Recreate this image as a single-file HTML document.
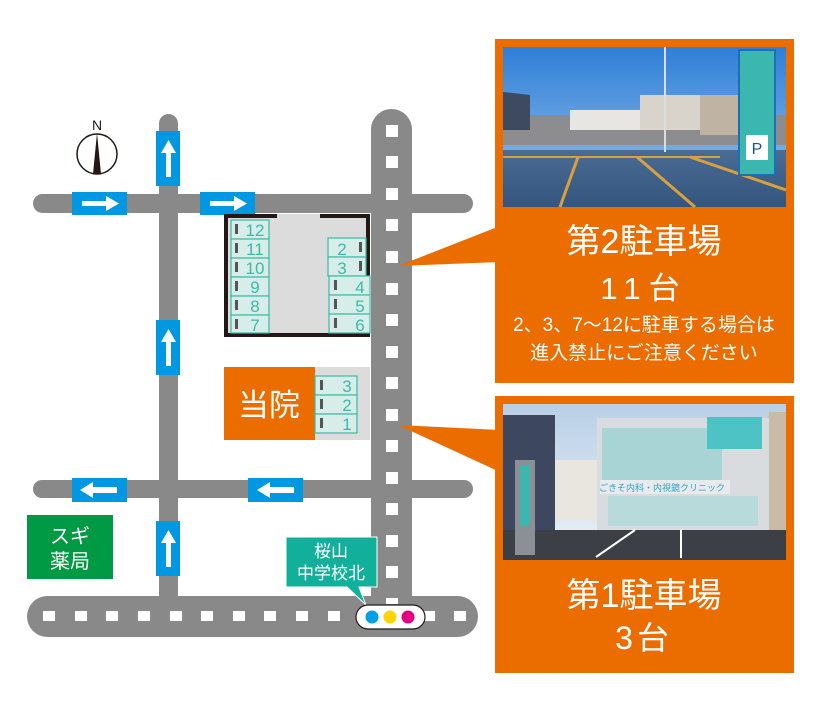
<!DOCTYPE html>
<html><head><meta charset="utf-8"><style>
html,body{margin:0;padding:0;background:#fff;}
svg{display:block;}
text{font-family:"Liberation Sans","Noto Sans CJK JP",sans-serif;}
</style></head><body>
<svg width="830" height="717" viewBox="0 0 830 717" xmlns="http://www.w3.org/2000/svg">
<defs>
<linearGradient id="sky1" x1="0" y1="0" x2="0" y2="1"><stop offset="0" stop-color="#2f7fd8"/><stop offset="1" stop-color="#9cc4ea"/></linearGradient>
<linearGradient id="asp" x1="0" y1="0" x2="0" y2="1"><stop offset="0" stop-color="#4a6c94"/><stop offset="1" stop-color="#34557e"/></linearGradient>
<linearGradient id="sky2" x1="0" y1="0" x2="0" y2="1"><stop offset="0" stop-color="#b9cfe6"/><stop offset="1" stop-color="#eef2f6"/></linearGradient>
</defs>
<g fill="#898989">
<rect x="33" y="194" width="440" height="19" rx="9.5"/>
<rect x="33" y="480" width="440" height="18" rx="9"/>
<rect x="159" y="114" width="19" height="490" rx="9.5"/>
<rect x="371" y="109" width="41" height="510" rx="20.5"/>
<rect x="27" y="596" width="451" height="41" rx="20.5"/>
</g>
<g fill="#fff">
<rect x="386" y="125" width="12" height="12"/><rect x="386" y="156" width="12" height="12"/><rect x="386" y="188" width="12" height="12"/><rect x="386" y="219" width="12" height="12"/><rect x="386" y="251" width="12" height="12"/><rect x="386" y="283" width="12" height="12"/><rect x="386" y="314" width="12" height="12"/><rect x="386" y="346" width="12" height="12"/><rect x="386" y="377" width="12" height="12"/><rect x="386" y="409" width="12" height="12"/><rect x="386" y="440" width="12" height="12"/><rect x="386" y="472" width="12" height="12"/><rect x="386" y="503" width="12" height="12"/><rect x="386" y="535" width="12" height="12"/><rect x="386" y="566" width="12" height="12"/><rect x="386" y="598" width="12" height="6"/>
<rect x="43" y="611" width="12" height="10"/><rect x="75" y="611" width="12" height="10"/><rect x="106" y="611" width="12" height="10"/><rect x="138" y="611" width="12" height="10"/><rect x="170" y="611" width="12" height="10"/><rect x="201" y="611" width="12" height="10"/><rect x="233" y="611" width="12" height="10"/><rect x="264" y="611" width="12" height="10"/><rect x="296" y="611" width="12" height="10"/><rect x="328" y="611" width="12" height="10"/><rect x="423" y="611" width="12" height="10"/><rect x="454" y="611" width="12" height="10"/>
</g>
<g fill="#0098e0">
<rect x="72" y="192" width="55" height="23"/><rect x="200" y="192" width="55" height="23"/>
<rect x="72" y="478" width="55" height="24"/><rect x="248" y="478" width="55" height="24"/>
<rect x="156" y="131" width="24" height="55"/><rect x="156" y="320" width="24" height="55"/><rect x="156" y="521" width="24" height="55"/>
</g>
<g fill="#fff">
<path d="M82 201h24v-5l13 7.5-13 7.5v-5h-24z"/>
<path d="M210 201h24v-5l13 7.5-13 7.5v-5h-24z"/>
<path d="M117 487h-24v-5l-13 8 13 8v-5h24z"/>
<path d="M294 487h-24v-5l-13 8 13 8v-5h24z"/>
<path d="M166 177v-24h-5l7.5-13 7.5 13h-5v24z"/>
<path d="M166 366v-24h-5l7.5-13 7.5 13h-5v24z"/>
<path d="M166 567v-24h-5l7.5-13 7.5 13h-5v24z"/>
</g>
<circle cx="97" cy="154" r="20" fill="#fff" stroke="#231815" stroke-width="1.5"/>
<path d="M97 133 L101 174 L93 174 Z" fill="#231815"/>
<text x="97" y="130" font-size="14" text-anchor="middle" fill="#231815">N</text>
<rect x="224" y="214" width="146" height="123" fill="#dcdcdc"/>
<path d="M277 216H226V335H368V276" fill="none" stroke="#231815" stroke-width="4"/>
<path d="M320 216H368V276" fill="none" stroke="#231815" stroke-width="4"/>
<g fill="#d7ede9" stroke="#3dbaa6" stroke-width="1.2">
<rect x="231" y="220" width="38" height="19"/><rect x="231" y="239" width="38" height="19"/><rect x="231" y="258" width="38" height="19"/><rect x="231" y="277" width="38" height="19"/><rect x="231" y="296" width="38" height="19"/><rect x="231" y="315" width="38" height="18"/>
<rect x="328" y="238" width="38" height="19"/><rect x="328" y="257" width="38" height="19"/>
<rect x="329" y="276" width="41" height="19"/><rect x="329" y="295" width="41" height="19"/><rect x="329" y="314" width="41" height="19"/>
</g>
<g fill="#555">
<rect x="235" y="224" width="3" height="10"/><rect x="235" y="243" width="3" height="10"/><rect x="235" y="262" width="3" height="10"/><rect x="235" y="281" width="3" height="10"/><rect x="235" y="300" width="3" height="10"/><rect x="235" y="319" width="3" height="10"/>
<rect x="359" y="242" width="3" height="10"/><rect x="359" y="261" width="3" height="10"/>
<rect x="334" y="280" width="3" height="10"/><rect x="334" y="299" width="3" height="10"/><rect x="334" y="318" width="3" height="10"/>
</g>
<g fill="#3dbaa6" font-size="17" text-anchor="middle">
<text x="255" y="236">12</text><text x="255" y="255">11</text><text x="255" y="274">10</text><text x="255" y="293">9</text><text x="255" y="312">8</text><text x="255" y="331">7</text>
<text x="342" y="255">2</text><text x="342" y="274">3</text>
<text x="360" y="293">4</text><text x="360" y="312">5</text><text x="360" y="331">6</text>
</g>
<rect x="315" y="367" width="55" height="73" fill="#dcdcdc"/>
<rect x="224" y="367" width="91" height="73" fill="#eb6d00"/>
<text x="269" y="416" font-size="31" fill="#fff" text-anchor="middle">当院</text>
<g fill="#d7ede9" stroke="#3dbaa6" stroke-width="1.2">
<rect x="315" y="376" width="42" height="19"/><rect x="315" y="395" width="42" height="19"/><rect x="315" y="414" width="42" height="19"/>
</g>
<g fill="#555"><rect x="320" y="380" width="3" height="10"/><rect x="320" y="399" width="3" height="10"/><rect x="320" y="418" width="3" height="10"/></g>
<g fill="#3dbaa6" font-size="17" text-anchor="middle"><text x="347" y="392">3</text><text x="347" y="411">2</text><text x="347" y="430">1</text></g>
<rect x="27" y="515" width="86" height="64" fill="#009a44"/>
<text x="70" y="543" font-size="20" fill="#fff" text-anchor="middle">スギ</text>
<text x="70" y="568" font-size="20" fill="#fff" text-anchor="middle">薬局</text>
<path d="M286 537H377V587H359L366 605 347 587H286Z" fill="#12b09a" stroke="#fff" stroke-width="1"/>
<text x="331" y="557" font-size="17" fill="#fff" text-anchor="middle">桜山</text>
<text x="331" y="579" font-size="17" fill="#fff" text-anchor="middle">中学校北</text>
<rect x="356" y="605" width="69" height="24" rx="12" fill="#fff" stroke="#231815" stroke-width="1.2"/>
<circle cx="372" cy="617" r="6.5" fill="#00a0e9"/><circle cx="390" cy="617" r="6.5" fill="#ffd400"/><circle cx="408" cy="617" r="6.5" fill="#e4007f"/>
<path d="M398 266L500 226V262Z" fill="#eb6d00"/>
<path d="M398 425L500 430V472Z" fill="#eb6d00"/>
<rect x="495" y="39" width="299" height="344" fill="#eb6d00"/>
<rect x="503" y="47" width="283" height="160" fill="url(#sky1)"/>
<rect x="503" y="115" width="283" height="30" fill="#8d8d8f"/>
<path d="M503 92L530 95V130H503Z" fill="#3d4a60"/>
<rect x="570" y="110" width="80" height="20" fill="#e8e6e2"/>
<rect x="640" y="95" width="60" height="35" fill="#d8d3cb"/>
<rect x="700" y="95" width="40" height="40" fill="#bfb4a4"/>
<rect x="503" y="150" width="283" height="57" fill="url(#asp)"/>
<path d="M503 157H720" stroke="#d9a040" stroke-width="2"/>
<path d="M578 157L560 207M637 157L695 207M690 157L786 190" stroke="#d9a040" stroke-width="3"/>
<rect x="664" y="47" width="2" height="105" fill="#ddd"/>
<rect x="739" y="50" width="36" height="125" fill="#3bb7b0" stroke="#1c6fb5" stroke-width="2"/>
<rect x="746" y="135" width="22" height="25" fill="#fff"/>
<text x="757" y="154" font-size="16" fill="#1c4fa0" text-anchor="middle">P</text>
<text x="644" y="253" font-size="34" fill="#fff" text-anchor="middle">第2駐車場</text>
<text x="644" y="299" font-size="31" fill="#fff" text-anchor="middle" letter-spacing="8">11台</text>
<text x="644" y="331" font-size="19" fill="#fff" text-anchor="middle">2、3、7〜12に駐車する場合は</text>
<text x="644" y="359" font-size="19" fill="#fff" text-anchor="middle">進入禁止にご注意ください</text>
<rect x="495" y="396" width="299" height="277" fill="#eb6d00"/>
<rect x="503" y="404" width="283" height="156" fill="url(#sky2)"/>
<rect x="503" y="415" width="52" height="130" fill="#3d4760"/>
<rect x="597" y="418" width="172" height="122" fill="#d9dcdf"/>
<rect x="602" y="428" width="120" height="53" fill="#a9d4d6"/>
<rect x="707" y="417" width="55" height="32" fill="#4dc3c6"/>
<rect x="600" y="480" width="130" height="14" fill="#e8eaec"/>
<text x="662" y="491" font-size="9" fill="#2aa6c8" text-anchor="middle">ごきそ内科・内視鏡クリニック</text>
<rect x="608" y="496" width="150" height="30" fill="#b8dadb"/>
<rect x="769" y="412" width="17" height="118" fill="#c9bba6"/>
<rect x="555" y="460" width="42" height="60" fill="#e9e6e0"/>
<rect x="503" y="530" width="283" height="30" fill="#3d3f46"/>
<path d="M596 557L635 530M681 558L681 530" stroke="#fff" stroke-width="2"/>
<rect x="515" y="460" width="20" height="95" fill="#8a9096"/>
<rect x="520" y="465" width="10" height="60" fill="#3bb7b0"/>
<text x="644" y="607" font-size="34" fill="#fff" text-anchor="middle">第1駐車場</text>
<text x="644" y="649" font-size="32" fill="#fff" text-anchor="middle" letter-spacing="4">3台</text>
</svg>
</body></html>
